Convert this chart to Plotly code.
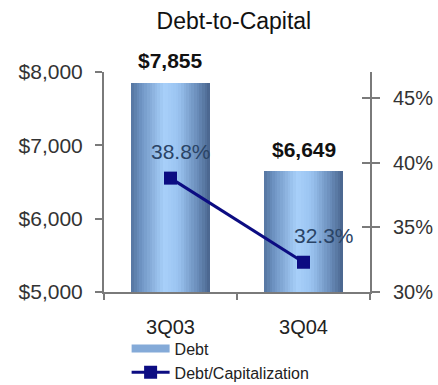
import plotly.graph_objects as go

# ---- data ----
categories = ["3Q03", "3Q04"]
debt = [7855, 6649]
debt_labels = ["$7,855", "$6,649"]
debt_to_cap = [38.8, 32.3]
pct_labels = ["38.8%", "32.3%"]
left_ticks = [5000, 6000, 7000, 8000]
left_ticktext = ["$5,000", "$6,000", "$7,000", "$8,000"]
right_ticks = [30, 35, 40, 45]
right_ticktext = ["30%", "35%", "40%", "45%"]

# ---- style ----
FONT = "Liberation Sans, Arial, sans-serif"
AXIS_COLOR = "#7a7a7a"
BAR_WIDTH = 0.59
N_STRIPS = 30
grad_stops = [(0.0, (84, 117, 160)), (0.12, (110, 147, 194)), (0.42, (168, 208, 250)),
              (0.6, (154, 195, 240)), (0.85, (104, 139, 184)), (1.0, (72, 100, 140))]


def grad_color(t):
    for (t0, c0), (t1, c1) in zip(grad_stops[:-1], grad_stops[1:]):
        if t0 <= t <= t1:
            f = (t - t0) / (t1 - t0)
            c = [round(a + (b - a) * f) for a, b in zip(c0, c1)]
            return f"rgb({c[0]},{c[1]},{c[2]})"
    c = grad_stops[-1][1]
    return f"rgb({c[0]},{c[1]},{c[2]})"


fig = go.Figure()

strip_w = BAR_WIDTH / N_STRIPS
for i in range(N_STRIPS):
    t = (i + 0.5) / N_STRIPS
    fig.add_trace(go.Bar(
        x=categories, y=debt,
        width=[strip_w * 1.05] * len(categories),
        offset=[-BAR_WIDTH / 2 + i * strip_w] * len(categories),
        marker=dict(color=grad_color(t), line=dict(width=0)),
        showlegend=False, hoverinfo="skip", yaxis="y",
    ))

# legend key for the bars
fig.add_trace(go.Scatter(
    x=[None], y=[None], mode="lines", name="Debt",
    line=dict(color="rgb(132,170,216)", width=8), yaxis="y",
))

fig.add_trace(go.Scatter(
    x=categories, y=debt_to_cap, mode="lines+markers", name="Debt/Capitalization",
    line=dict(color="#0c0c82", width=3),
    marker=dict(symbol="square", size=13, color="#0c0c82"),
    yaxis="y2",
))

# dummy trace to activate yaxis3 (inner half of right-axis ticks)
fig.add_trace(go.Scatter(x=[None], y=[None], yaxis="y3", showlegend=False, hoverinfo="skip"))

# bar value labels
for c, v, lab in zip(categories, debt, debt_labels):
    fig.add_annotation(x=c, y=v, xref="x", yref="y", text=f"<b>{lab}</b>",
                       showarrow=False, yanchor="middle", yshift=22,
                       font=dict(family=FONT, size=21, color="#111111"))

# percentage labels
pct_xshift = [10, 20]
for c, v, lab, xs in zip(categories, debt_to_cap, pct_labels, pct_xshift):
    fig.add_annotation(x=c, y=v, xref="x", yref="y2", text=lab,
                       showarrow=False, yanchor="middle", yshift=27, xshift=xs,
                       font=dict(family=FONT, size=21, color="#2a4466"))

fig.update_layout(
    width=438, height=385,
    margin=dict(l=104, r=68, t=72, b=93, autoexpand=False),
    paper_bgcolor="white", plot_bgcolor="white",
    barmode="overlay", bargap=0,
    font=dict(family=FONT, color="#333333"),
    title=dict(text="Debt-to-Capital", x=0.534, xref="container", xanchor="center",
               y=1 - 21 / 385, yref="container", yanchor="middle",
               font=dict(family=FONT, size=23, color="#111111")),
    xaxis=dict(
        type="category", range=[-0.5, 1.5], showgrid=False, zeroline=False,
        showline=True, linecolor=AXIS_COLOR, linewidth=2, automargin=False,
        ticks="outside", tickson="boundaries", ticklen=6, tickcolor=AXIS_COLOR, tickwidth=2,
        tickfont=dict(family=FONT, size=20, color="#222222"), ticklabelstandoff=16,
    ),
    yaxis=dict(
        range=[5000, 8000], tickvals=left_ticks, ticktext=left_ticktext, automargin=False,
        showgrid=False, zeroline=False, showline=True, linecolor=AXIS_COLOR, linewidth=2,
        ticks="outside", ticklen=7, tickcolor=AXIS_COLOR, tickwidth=2,
        tickfont=dict(family=FONT, size=21, color="#333333"), ticklabelstandoff=8,
    ),
    yaxis2=dict(
        range=[30, 47], tickvals=right_ticks, ticktext=right_ticktext, automargin=False,
        overlaying="y", side="right", anchor="x",
        showgrid=False, zeroline=False, showline=True, linecolor=AXIS_COLOR, linewidth=2,
        ticks="outside", ticklen=8, tickcolor=AXIS_COLOR, tickwidth=2,
        tickfont=dict(family=FONT, size=20, color="#333333"), ticklabelstandoff=9,
    ),
    yaxis3=dict(
        range=[30, 47], tickvals=right_ticks, overlaying="y", side="right", anchor="x",
        showgrid=False, zeroline=False, showline=False, showticklabels=False, automargin=False,
        ticks="inside", ticklen=8, tickcolor=AXIS_COLOR, tickwidth=2,
    ),
    legend=dict(
        x=0.085, y=-0.18, xanchor="left", yanchor="top", orientation="v",
        font=dict(family=FONT, size=16, color="#222222"),
        bgcolor="rgba(0,0,0,0)", tracegroupgap=0, itemwidth=38,
    ),
    showlegend=True,
)

fig.write_html("out.html")
